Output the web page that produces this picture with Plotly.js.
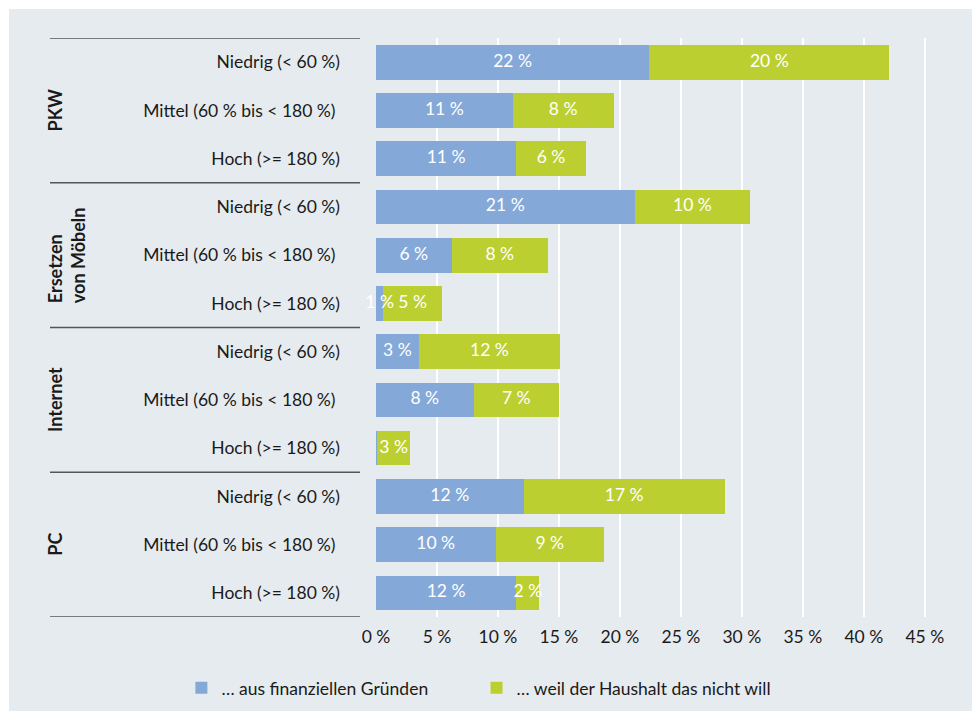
<!DOCTYPE html>
<html>
<head>
<meta charset="utf-8">
<script src="https://cdn.plot.ly/plotly-3.0.1.min.js"></script>
<style>
html,body{margin:0;padding:0;background:#ffffff;}
#chart{position:absolute;left:9px;top:9px;width:963px;height:702px;}
</style>
</head>
<body>
<div id="chart"></div>
<script>
// ---- data ----
const rowLabels = [
  "Niedrig (< 60 %)", "Mittel (60 % bis < 180 %)\u00a0", "Hoch (>= 180 %)",
  "Niedrig (< 60 %)", "Mittel (60 % bis < 180 %)\u00a0", "Hoch (>= 180 %)",
  "Niedrig (< 60 %)", "Mittel (60 % bis < 180 %)\u00a0", "Hoch (>= 180 %)",
  "Niedrig (< 60 %)", "Mittel (60 % bis < 180 %)\u00a0", "Hoch (>= 180 %)"
];
const groups = ["PKW", "Ersetzen<br>von Möbeln", "Internet", "PC"];
const seriesNames = ["… aus finanziellen Gründen", "… weil der Haushalt das nicht will"];
const financial = [22.4, 11.2, 11.5, 21.2, 6.2, 0.6, 3.5, 8.0, 0.1, 12.1, 9.8, 11.5];
const notWanted = [19.7, 8.3, 5.7, 9.5, 7.9, 4.8, 11.6, 7.0, 2.7, 16.5, 8.9, 1.9];
const financialLabels = ["22 %", "11 %", "11 %", "21 %", "6 %", "1 %", "3 %", "8 %", "", "12 %", "10 %", "12 %"];
const notWantedLabels = ["20 %", "8 %", "6 %", "10 %", "8 %", "5 %", "12 %", "7 %", "3 %", "17 %", "9 %", "2 %"];
const xTickVals = [0, 5, 10, 15, 20, 25, 30, 35, 40, 45];
const xTickText = ["0 %", "5 %", "10 %", "15 %", "20 %", "25 %", "30 %", "35 %", "40 %", "45 %"];

// ---- build ----
const idx = rowLabels.map((_, i) => i);
const FONT = "Lato, 'Open Sans', sans-serif";
const FS = 17.5;
const barCommon = {type: "bar", orientation: "h", y: idx, hoverinfo: "skip", textposition: "none"};
const labelCommon = {type: "scatter", mode: "text", y: idx, showlegend: false, hoverinfo: "skip", cliponaxis: false,
  textposition: "middle center", textfont: {color: "#ffffff", size: FS, family: FONT}};
const traces = [
  Object.assign({}, barCommon, {x: financial, name: seriesNames[0], marker: {color: "#84a8d8"}, legend: "legend"}),
  Object.assign({}, barCommon, {x: notWanted, name: seriesNames[1], marker: {color: "#bccf30"}, legend: "legend2"}),
  // value labels on top of all bars, centred in each segment
  Object.assign({}, labelCommon, {x: financial.map(v => v / 2), text: financialLabels}),
  Object.assign({}, labelCommon, {x: notWanted.map((v, i) => financial[i] + v / 2), text: notWantedLabels})
];

const plotW = 963 - 367 - 35;
const toPaperX = px => (px - 376) / plotW;
const shapes = [];
[-0.5, 2.5, 5.5, 8.5, 11.5].forEach(b => {
  shapes.push({type: "line", xref: "paper", yref: "y", x0: toPaperX(50), x1: toPaperX(360), y0: b, y1: b,
    line: {color: "#555555", width: 1.3}});
});
const groupX = [55, 66, 55, 55];
const groupY = [1, 4, 7, 10];
const annotations = groups.map((g, i) => ({
  xref: "paper", yref: "y", x: toPaperX(groupX[i]), y: groupY[i], text: "<b>" + g + "</b>",
  textangle: -90, showarrow: false, xanchor: "center", yanchor: "middle", align: "left",
  font: {family: FONT, size: 18, color: "#1a1a1a"}
}));

const legendBase = {orientation: "h", xref: "container", yref: "container", xanchor: "left", y: 0.033, yanchor: "middle",
  font: {size: FS, color: "#1a1a1a"}, bgcolor: "rgba(0,0,0,0)"};

const layout = {
  width: 963, height: 702,
  paper_bgcolor: "#e6ebef", plot_bgcolor: "#e6ebef",
  margin: {l: 367, r: 35, t: 29, b: 94},
  barmode: "stack", bargap: 0.28,
  font: {family: FONT, size: FS, color: "#1a1a1a"},
  xaxis: {range: [0, 46], tickvals: xTickVals, ticktext: xTickText, showgrid: true, gridcolor: "#ffffff", gridwidth: 2,
    zeroline: false, showline: false, ticks: "", ticklabelstandoff: 7, tickfont: {size: FS, color: "#1a1a1a"}, fixedrange: true},
  yaxis: {range: [11.5, -0.5], tickvals: idx, ticktext: rowLabels, showgrid: false, zeroline: false, showline: false,
    ticks: "", ticklabelstandoff: 35, tickfont: {size: FS, color: "#1a1a1a"}, fixedrange: true},
  showlegend: true,
  legend: Object.assign({}, legendBase, {x: 0.179}),
  legend2: Object.assign({}, legendBase, {x: 0.4855}),
  shapes: shapes,
  annotations: annotations
};
Plotly.newPlot("chart", traces, layout, {displayModeBar: false, staticPlot: true});
</script>
</body>
</html>
